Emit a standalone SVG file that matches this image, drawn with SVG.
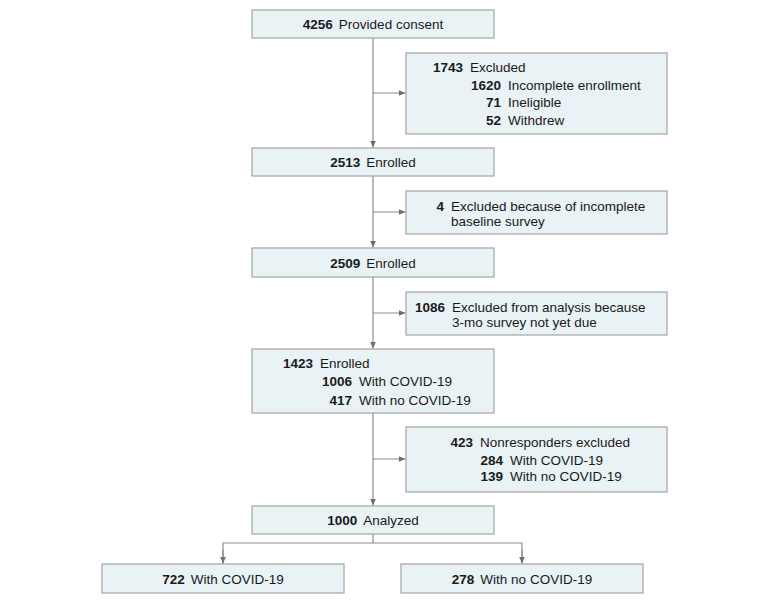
<svg xmlns="http://www.w3.org/2000/svg" width="780" height="605" viewBox="0 0 780 605">
<style>
.box{fill:#e9f2f4;stroke:#a3a3a3;stroke-width:1.2}
.t{font-family:"Liberation Sans",Arial,sans-serif;font-size:13.5px;fill:#1a1a1a}
.n{font-weight:bold;text-anchor:end}
.c{text-anchor:middle}
.b{font-weight:bold}
.ln{fill:none;stroke:#8c8c8c;stroke-width:1.2}
</style>
<defs>
<marker id="ah" viewBox="0 0 7 6" refX="7" refY="3" markerWidth="7" markerHeight="6" markerUnits="userSpaceOnUse" orient="auto">
<path d="M0,0 L7,3 L0,6 z" fill="#6e6e6e"/>
</marker>
</defs>
<rect width="780" height="605" fill="#ffffff"/>
<g id="connectors">
<line class="ln" x1="373" y1="38" x2="373" y2="147.5" marker-end="url(#ah)"/>
<line class="ln" x1="373" y1="93" x2="405.5" y2="93" marker-end="url(#ah)"/>
<line class="ln" x1="373" y1="176" x2="373" y2="247.5" marker-end="url(#ah)"/>
<line class="ln" x1="373" y1="212" x2="405.5" y2="212" marker-end="url(#ah)"/>
<line class="ln" x1="373" y1="277" x2="373" y2="348.5" marker-end="url(#ah)"/>
<line class="ln" x1="373" y1="313" x2="405.5" y2="313" marker-end="url(#ah)"/>
<line class="ln" x1="373" y1="413" x2="373" y2="505.5" marker-end="url(#ah)"/>
<line class="ln" x1="373" y1="459" x2="405.5" y2="459" marker-end="url(#ah)"/>
<polyline class="ln" points="373,534 373,543"/>
<polyline class="ln" points="223,563.5 223,543 522,543 522,563.5"/>
<line class="ln" x1="223" y1="550" x2="223" y2="563.5" marker-end="url(#ah)"/>
<line class="ln" x1="522" y1="550" x2="522" y2="563.5" marker-end="url(#ah)"/>
</g>
<g id="consent">
<rect class="box" x="252" y="10" width="242" height="28"/>
<text class="t c" x="373" y="29"><tspan class="b">4256</tspan><tspan dx="6">Provided consent</tspan></text>
</g>
<g id="excluded1">
<rect class="box" x="406" y="53" width="261" height="81"/>
<text class="t n" x="463" y="71.7">1743</text><text class="t" x="470" y="71.7">Excluded</text>
<text class="t n" x="501" y="89.5">1620</text><text class="t" x="508" y="89.5">Incomplete enrollment</text>
<text class="t n" x="501" y="107">71</text><text class="t" x="508" y="107">Ineligible</text>
<text class="t n" x="501" y="124.7">52</text><text class="t" x="508" y="124.7">Withdrew</text>
</g>
<g id="enrolled1">
<rect class="box" x="252" y="148" width="242" height="28"/>
<text class="t c" x="373" y="167"><tspan class="b">2513</tspan><tspan dx="6">Enrolled</tspan></text>
</g>
<g id="excluded2">
<rect class="box" x="406" y="191" width="261" height="43"/>
<text class="t n" x="444" y="210.5">4</text><text class="t" x="451" y="210.5">Excluded because of incomplete</text>
<text class="t" x="451" y="226">baseline survey</text>
</g>
<g id="enrolled2">
<rect class="box" x="252" y="248" width="242" height="29"/>
<text class="t c" x="373" y="267.5"><tspan class="b">2509</tspan><tspan dx="6">Enrolled</tspan></text>
</g>
<g id="excluded3">
<rect class="box" x="406" y="292" width="261" height="43"/>
<text class="t n" x="445" y="311.5">1086</text><text class="t" x="452" y="311.5">Excluded from analysis because</text>
<text class="t" x="452" y="327">3-mo survey not yet due</text>
</g>
<g id="enrolled3">
<rect class="box" x="252" y="349" width="242" height="64"/>
<text class="t n" x="313" y="367.7">1423</text><text class="t" x="320" y="367.7">Enrolled</text>
<text class="t n" x="352" y="386.4">1006</text><text class="t" x="359" y="386.4">With COVID-19</text>
<text class="t n" x="352" y="404.7">417</text><text class="t" x="359" y="404.7">With no COVID-19</text>
</g>
<g id="nonresponders">
<rect class="box" x="406" y="427" width="261" height="65"/>
<text class="t n" x="473" y="447.4">423</text><text class="t" x="480" y="447.4">Nonresponders excluded</text>
<text class="t n" x="503" y="464.7">284</text><text class="t" x="510" y="464.7">With COVID-19</text>
<text class="t n" x="503" y="481.4">139</text><text class="t" x="510" y="481.4">With no COVID-19</text>
</g>
<g id="analyzed">
<rect class="box" x="252" y="506" width="242" height="28"/>
<text class="t c" x="373" y="525"><tspan class="b">1000</tspan><tspan dx="6">Analyzed</tspan></text>
</g>
<g id="with-covid">
<rect class="box" x="102" y="564" width="242" height="29"/>
<text class="t c" x="223" y="583.5"><tspan class="b">722</tspan><tspan dx="6">With COVID-19</tspan></text>
</g>
<g id="without-covid">
<rect class="box" x="401" y="564" width="242" height="29"/>
<text class="t c" x="522" y="583.5"><tspan class="b">278</tspan><tspan dx="6">With no COVID-19</tspan></text>
</g>
</svg>
